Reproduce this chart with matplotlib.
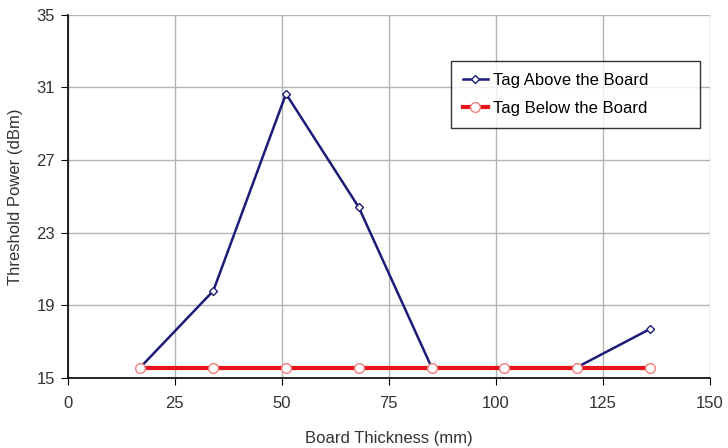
import numpy as np
import matplotlib
matplotlib.use('Agg')
import matplotlib.pyplot as plt

plt.rcParams['font.family'] = ['Liberation Sans', 'DejaVu Sans']

THICKNESS_MM = [17, 34, 51, 68, 85, 102, 119, 136]
ABOVE_DBM = [15.6, 19.8, 30.65, 24.4, 15.6, 15.6, 15.6, 17.7]
BELOW_DBM = [15.55, 15.55, 15.55, 15.55, 15.55, 15.55, 15.55, 15.55]

X_TICKS = [0, 25, 50, 75, 100, 125, 150]
Y_TICKS = [15, 19, 23, 27, 31, 35]

fig = plt.figure(figsize=(7.28, 4.48), dpi=100)
ax = fig.add_axes([0.093, 0.156, 0.882, 0.811])

ax.plot(THICKNESS_MM, ABOVE_DBM, color='#1c1c78', lw=1.8, marker='D',
        ms=4.5, mfc='white', mec='#1c1c78', mew=1.0,
        label='Tag Above the Board', zorder=3)
ax.plot(THICKNESS_MM, BELOW_DBM, color='#e8141c', lw=3, marker='o',
        ms=7, mfc='white', mec='#f08080', mew=1.0,
        label='Tag Below the Board', zorder=4)

ax.set_xlim(0, 150)
ax.set_ylim(15, 35)
ax.set_xticks(X_TICKS)
ax.set_yticks(Y_TICKS)
ax.grid(True, color='#b4b4b4', lw=1)
ax.set_axisbelow(True)
for s in ('top', 'right'):
    ax.spines[s].set_visible(False)
for s in ('left', 'bottom'):
    ax.spines[s].set_color('black')
    ax.spines[s].set_linewidth(1.2)
ax.tick_params(direction='out', length=5, labelsize=12, colors='black',
               labelcolor='#333333')
ax.tick_params(axis='x', pad=8)
ax.tick_params(axis='y', pad=4)

ax.set_xlabel('Board Thickness (mm)', fontsize=12, color='#333333', labelpad=14)
ax.set_ylabel('Threshold Power (dBm)', fontsize=12, color='#333333', labelpad=10)

leg = ax.legend(loc='upper left', bbox_to_anchor=(0.597, 0.873, 0.387, 0.0),
                mode='expand', frameon=True, fancybox=False, fontsize=12,
                handlelength=1.5, handletextpad=0.3, borderpad=0.7,
                labelspacing=0.8, borderaxespad=0.0)
leg.get_frame().set_edgecolor('black')
leg.get_frame().set_linewidth(1.0)

fig.savefig('out.png', dpi=100)
